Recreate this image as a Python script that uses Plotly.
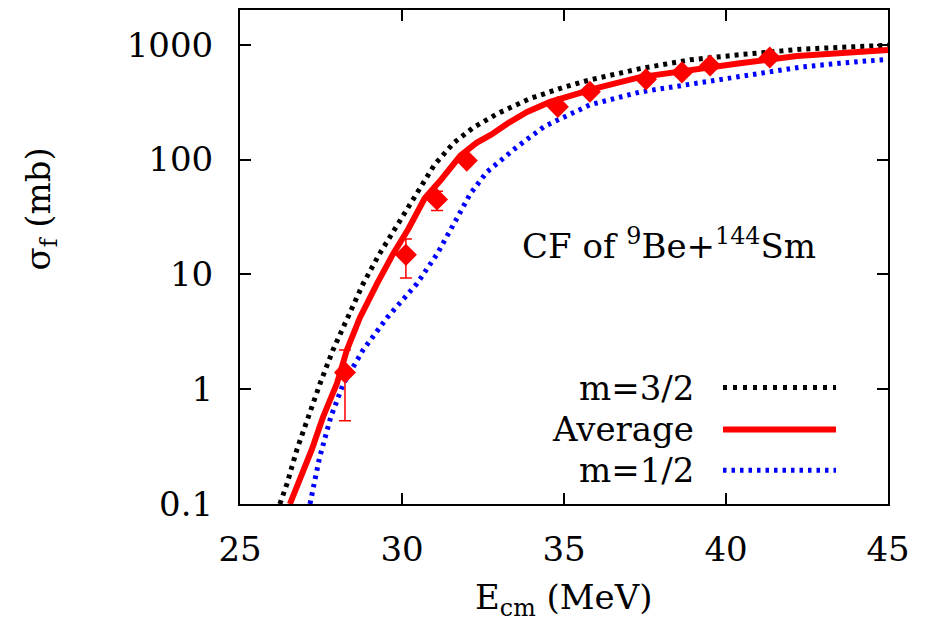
import plotly.graph_objects as go

# ---- data ----
exp_x = [28.24, 30.12, 31.08, 32.0, 34.81, 35.80, 37.53, 38.64, 39.51, 41.35]
exp_y = [1.4, 14.8, 45, 98, 288, 390, 500, 575, 660, 775]
exp_err_plus = [0.8, 5.5, 8, 6, 15, 18, 20, 22, 25, 30]
exp_err_minus = [0.87, 5.5, 9, 6, 15, 18, 20, 22, 25, 30]

avg_x = [26.54, 26.79, 27.22, 27.56, 27.99, 28.3, 28.7, 29.23, 29.72, 30.2, 30.7, 31.17, 31.8,
         32.3, 32.75, 33.3, 33.86, 34.57, 35.3, 36.0, 37.35, 38.6, 39.5, 40.43, 42.19, 43.5, 45.0]
avg_y = [0.1, 0.15, 0.3, 0.57, 1.12, 2.2, 4.2, 8.3, 15, 25, 46, 65, 108,
         140, 165, 210, 260, 318, 365, 420, 523, 590, 645, 690, 800, 850, 900]

m32_x = [26.23, 26.45, 26.76, 27.1, 27.47, 27.87, 28.33, 28.8, 29.3, 29.9, 30.45, 31.0, 31.6,
         32.2, 32.93, 33.95, 34.97, 35.8, 37.35, 38.89, 40.43, 42.28, 43.5, 45.0]
m32_y = [0.1, 0.15, 0.3, 0.57, 1.12, 2.2, 4.2, 8.3, 15, 28, 50, 90, 140,
         190, 250, 340, 425, 495, 620, 740, 820, 914, 950, 990]

m12_x = [27.16, 27.45, 27.8, 28.18, 28.8, 29.54, 30.46, 31.08, 31.7, 32.1, 32.62, 33.55,
         34.4, 35.8, 37.35, 38.89, 40.43, 42.28, 43.5, 45.0]
m12_y = [0.1, 0.25, 0.57, 1.1, 2.2, 4.2, 8.3, 15, 31, 50, 78, 129,
         195, 300, 388, 455, 523, 638, 690, 748]

y_tickvals = [0.1, 1, 10, 100, 1000]
y_ticktext = ["0.1", "1", "10", "100", "1000"]
x_tickvals = [25, 30, 35, 40, 45]
x_ticktext = ["25", "30", "35", "40", "45"]

legend_names = ["m=3/2", "Average", "m=1/2"]

FONT = "DejaVu Serif"
FS = 34

fig = go.Figure()

fig.add_trace(go.Scatter(x=m32_x, y=m32_y, mode="lines",
                         line=dict(color="black", width=5, dash="4px,5px"),
                         showlegend=False))
fig.add_trace(go.Scatter(x=m12_x, y=m12_y, mode="lines",
                         line=dict(color="#0000ff", width=5, dash="3.5px,5px"),
                         showlegend=False))
fig.add_trace(go.Scatter(x=avg_x, y=avg_y, mode="lines",
                         line=dict(color="#ff0000", width=6),
                         showlegend=False))
fig.add_trace(go.Scatter(x=exp_x, y=exp_y, mode="markers",
                         marker=dict(symbol="diamond", size=17, color="#ff0000"),
                         error_y=dict(type="data", array=exp_err_plus, arrayminus=exp_err_minus,
                                      color="#ff0000", thickness=1.5, width=6),
                         showlegend=False))

# legend (text left of sample lines, as in reference)
L, R, T, B = 240, 888, 7.5, 504
W, H = R - L, B - T
def px(x):
    return (x - L) / W
def py(y):
    return (B - y) / H

leg_rows = [387, 429, 470]
leg_styles = [dict(color="black", width=5, dash="4px,6px"),
              dict(color="#ff0000", width=6),
              dict(color="#0000ff", width=5, dash="3.5px,5px")]
for name, yy, st in zip(legend_names, leg_rows, leg_styles):
    fig.add_annotation(x=px(696), y=py(yy), xref="paper", yref="paper", text=name,
                       showarrow=False, xanchor="right", yanchor="middle",
                       font=dict(family=FONT, size=FS, color="black"))
    fig.add_shape(type="line", xref="paper", yref="paper", x0=px(723), x1=px(836),
                  y0=py(yy), y1=py(yy), line=st)

fig.add_annotation(x=px(669), y=py(243), xref="paper", yref="paper",
                   text="CF of <sup>9</sup>Be+<sup>144</sup>Sm", showarrow=False,
                   xanchor="center", yanchor="middle",
                   font=dict(family=FONT, size=FS, color="black"))

fig.add_annotation(x=px(40), y=py(208), xref="paper", yref="paper",
                   text="σ<sub>f</sub> (mb)", showarrow=False, textangle=-90,
                   xanchor="center", yanchor="middle",
                   font=dict(family=FONT, size=FS, color="black"))
fig.add_annotation(x=px(564), y=py(600), xref="paper", yref="paper",
                   text="E<sub>cm</sub> (MeV)", showarrow=False,
                   xanchor="center", yanchor="middle",
                   font=dict(family=FONT, size=FS, color="black"))

axis_common = dict(showline=True, linecolor="black", linewidth=2, mirror="ticks",
                   ticks="inside", ticklen=11, tickwidth=1.5, tickcolor="black",
                   showgrid=False, zeroline=False,
                   tickfont=dict(family=FONT, size=FS, color="black"))

fig.update_xaxes(range=[25, 45], tickvals=x_tickvals, ticktext=x_ticktext,
                 ticklabelstandoff=14, **axis_common)
fig.update_yaxes(type="log", range=[-1, 3.303], tickvals=y_tickvals, ticktext=y_ticktext,
                 ticklabelstandoff=18, **axis_common)

fig.update_layout(width=931, height=637,
                  margin=dict(l=240, r=43, t=7.5, b=133),
                  plot_bgcolor="white", paper_bgcolor="white",
                  font=dict(family=FONT, size=FS, color="black"))

fig.write_html("out.html")
